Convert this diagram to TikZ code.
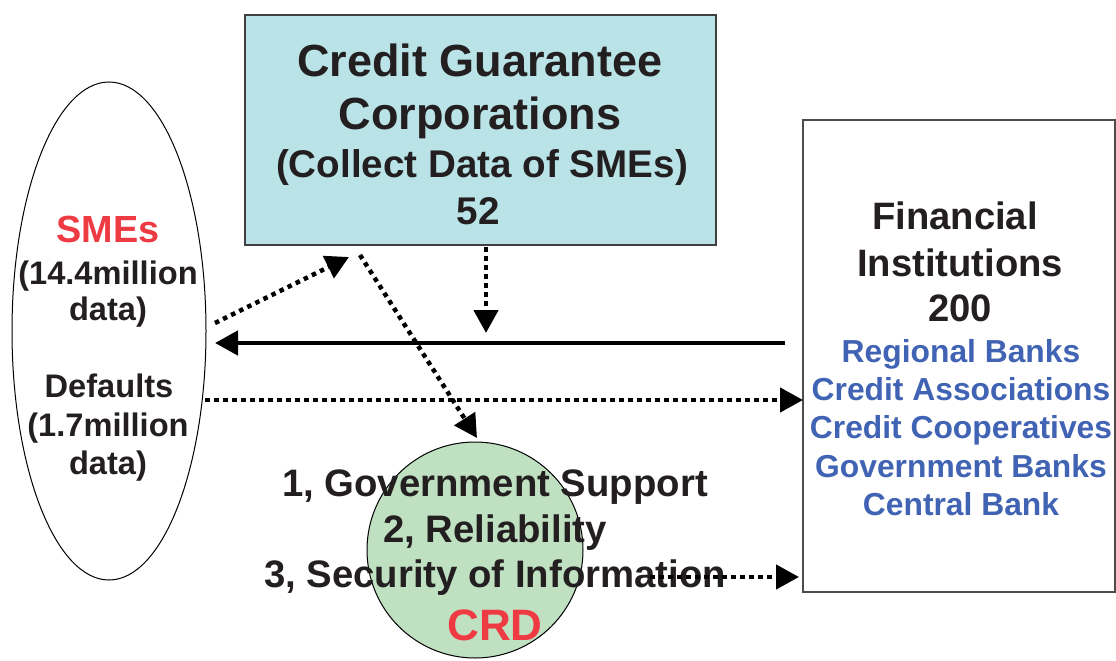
\documentclass[tikz,border=0pt]{standalone}
\usepackage{fontspec}
\setmainfont{Liberation Sans}
\usetikzlibrary{arrows.meta,shapes.geometric}
\definecolor{txt}{HTML}{231F20}
\definecolor{redt}{HTML}{EE3B43}
\definecolor{bluet}{HTML}{4063B4}
\definecolor{cgcfill}{HTML}{B9E3E6}
\definecolor{crdfill}{HTML}{BFE0C1}
\tikzset{
  lbl/.style={anchor=base, inner sep=0pt, font=\bfseries, text=txt},
  dotarrow/.style={line width=4.5pt, dash pattern=on 4.5pt off 4.5pt, -{Triangle[length=23pt,width=24pt]}},
  solidarrow/.style={line width=4.8pt, -{Triangle[length=23pt,width=24pt]}},
}
\newcommand{\fs}[1]{\fontsize{#1}{#1}\selectfont}
\begin{document}
\begin{tikzpicture}[x=1pt,y=-1pt]
\useasboundingbox (0,0) rectangle (1116,661);
% shapes
\node[draw=black!75, line width=1.5pt, fill=cgcfill, minimum width=471pt, minimum height=230pt, inner sep=0pt] (cgc) at (480.5,130) {};
\node[draw=black, line width=1pt, fill=white, ellipse, minimum width=194pt, minimum height=498pt, inner sep=0pt] (smes) at (109,331) {};
\node[draw=black!70, line width=1.2pt, fill=white, minimum width=312pt, minimum height=472pt, inner sep=0pt] (fi) at (959,356) {};
\node[draw=black, line width=1pt, fill=crdfill, circle, minimum size=216pt, inner sep=0pt] (crd) at (475,550) {};
% CGC text
\node[lbl, font=\bfseries\fs{45}] (t1) at (480,77) {Credit Guarantee};
\node[lbl, font=\bfseries\fs{45}] (t2) at (480,129) {Corporations};
\node[lbl, font=\bfseries\fs{38.6}] (t3) at (482,177) {(Collect Data of SMEs)};
\node[lbl, font=\bfseries\fs{38.6}] (t4) at (478,224) {52};
% SMEs text
\node[lbl, font=\bfseries\fs{37.8}, text=redt] (s1) at (108,242) {SMEs};
\node[lbl, font=\bfseries\fs{32.6}] (s2) at (108,284) {(14.4million};
\node[lbl, font=\bfseries\fs{32.6}] (s3) at (108,320) {data)};
\node[lbl, font=\bfseries\fs{32.6}] (s4) at (109,397) {Defaults};
\node[lbl, font=\bfseries\fs{32.6}] (s5) at (108,436) {(1.7million};
\node[lbl, font=\bfseries\fs{32.6}] (s6) at (108,474) {data)};
% FI text
\node[lbl, font=\bfseries\fs{38.2}] (f1) at (955,229) {Financial};
\node[lbl, font=\bfseries\fs{38.2}] (f2) at (960,276) {Institutions};
\node[lbl, font=\bfseries\fs{38.2}] (f3) at (960,321) {200};
\node[lbl, font=\bfseries\fs{31.8}, text=bluet] (b1) at (961,362) {Regional Banks};
\node[lbl, font=\bfseries\fs{31.8}, text=bluet] (b2) at (961,400) {Credit Associations};
\node[lbl, font=\bfseries\fs{31.8}, text=bluet] (b3) at (961,438) {Credit Cooperatives};
\node[lbl, font=\bfseries\fs{31.8}, text=bluet] (b4) at (961,477) {Government Banks};
\node[lbl, font=\bfseries\fs{31.8}, text=bluet] (b5) at (961,515) {Central Bank};
% CRD text
\node[lbl, font=\bfseries\fs{38.3}] (c1) at (495,496) {1, Government Support};
\node[lbl, font=\bfseries\fs{38.3}] (c2) at (495,542) {2, Reliability};
\node[lbl, font=\bfseries\fs{38.3}] (c3) at (495,587) {3, Security of Information};
\node[lbl, font=\bfseries\fs{44}, text=redt] (c4) at (495,640) {CRD};
% connector end points
\coordinate (a1s) at (215,323);
\coordinate (a1e) at (349,257);
\coordinate (a2s) at (360,255);
\coordinate (a2e) at (477,438);
\coordinate (a3s) at (486,247);
\coordinate (a3e) at (486,333);
\coordinate (a4s) at (785,343);
\coordinate (a4e) at (215,343);
\coordinate (a5s) at (205,400);
\coordinate (a5e) at (803,400);
\coordinate (a6s) at (650,577);
\coordinate (a6e) at (799,577);
% connectors
\draw[dotarrow] (a1s) -- (a1e);
\draw[dotarrow] (a2s) -- (a2e);
\draw[dotarrow] (a3s) -- (a3e);
\draw[solidarrow] (a4s) -- (a4e);
\draw[dotarrow] (a5s) -- (a5e);
\draw[dotarrow] (a6s) -- (a6e);
\end{tikzpicture}
\end{document}
